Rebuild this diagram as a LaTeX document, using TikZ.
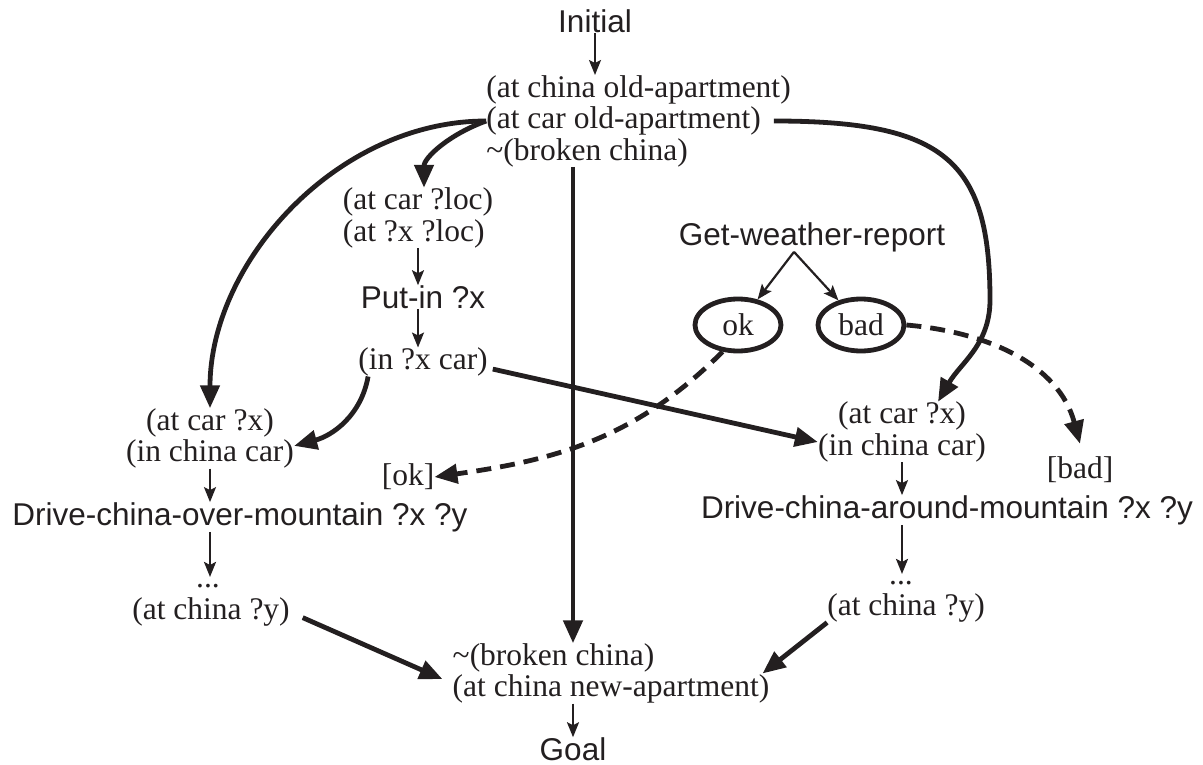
\documentclass[tikz,border=0pt]{standalone}
\usepackage{fontspec}
\setmainfont{Liberation Serif}
\setsansfont{Liberation Sans}
\usetikzlibrary{arrows.meta,shapes.geometric}
\definecolor{ink}{RGB}{35,31,32}

\begin{document}
\begin{tikzpicture}[
  x=1pt, y=1pt,
  color=ink,
  font=\fontsize{31.5}{31.5}\selectfont,
  st/.style={inner sep=0pt, align=center},
  op/.style={inner sep=0pt, font=\fontsize{31.5}{31.5}\selectfont\sffamily},
  res/.style={ellipse, draw, line width=4.8pt, inner sep=0pt, minimum width=86pt, minimum height=52pt},
  link/.style={-{Stealth[length=15pt, width=12pt, inset=3pt]}, line width=2.2pt},
  flow/.style={-{Triangle[length=23pt, width=19pt]}, line width=4.8pt},
  cond/.style={flow, dash pattern=on 15pt off 9pt},
]
\useasboundingbox (0,0) rectangle (1203,-765);

% ---- initial state ----
\node[op] (INIT) at (595,-21) {Initial};
\node[st, align=left] (S0) at (638.5,-121) {(at china old-apartment)\\(at car old-apartment)\\\textasciitilde(broken china)};

% ---- loading the car ----
\node[st, align=left] (LOC) at (418,-218) {(at car ?loc)\\(at ?x ?loc)};
\node[op] (PUT) at (423,-297) {Put-in ?x};
\node[st] (INX) at (423,-362) {(in ?x car)};

% ---- left branch: over the mountain ----
\node[st] (LCAR) at (210,-438.5) {(at car ?x)\\(in china car)};
\node[op] (LDRV) at (240,-517) {Drive-china-over-mountain ?x ?y};
\node[st] (LDOT) at (208,-586) {...};
\node[st] (LEND) at (211,-612) {(at china ?y)};

% ---- right branch: around the mountain ----
\node[st] (RCAR) at (902,-432) {(at car ?x)\\(in china car)};
\node[op] (RDRV) at (947,-510) {Drive-china-around-mountain ?x ?y};
\node[st] (RDOT) at (901,-583) {...};
\node[st] (REND) at (906,-608) {(at china ?y)};

% ---- sensing action ----
\node[op] (GWR) at (812,-237) {Get-weather-report};
\node[res] (OK) at (738,-325) {ok};
\node[res] (BAD) at (861,-325) {bad};
\node[st] (OKL) at (408,-477) {[ok]};
\node[st] (BADL) at (1080,-470) {[bad]};

% ---- goal state ----
\node[st, align=left] (GST) at (611,-673.5) {\textasciitilde(broken china)\\(at china new-apartment)};
\node[op] (GOAL) at (573,-749) {Goal};

% ---- thin steps ----
\draw[link] (INIT) -- (INIT |- S0.north);
\draw[link] (LOC.south) -- (LOC.south |- PUT.north);
\draw[link] (LOC.south |- PUT.south) -- (LOC.south |- INX.north);
\draw[link] (LCAR.south) -- (LCAR.south |- LDRV.north);
\draw[link, shorten >=7pt] (LCAR.south |- LDRV.south) -- (LCAR.south |- LDOT.north);
\draw[link] (RCAR.south) -- (RCAR.south |- RDRV.north);
\draw[link, shorten >=7pt] (RCAR.south |- RDRV.south) -- (RCAR.south |- RDOT.north);
\draw[link] (GOAL |- GST.south) -- (GOAL.north);
\coordinate (FORK) at ([xshift=-18pt]GWR.south);
\draw[link] (FORK) -- (OK);
\draw[link] (FORK) -- (BAD);

% ---- causal links ----
\draw[flow] (S0.west) to[out=180, in=90, out distance=150pt, in distance=145pt] (LCAR.north);
\draw[flow] (S0.west) to[out=200, in=90, out distance=40pt, in distance=30pt] ([xshift=6pt]LOC.north);
\draw[flow] ([xshift=-17pt]S0.east) to[out=0, in=90, out distance=170pt, in distance=140pt] (990,-300)
  to[out=-90, in=60] (RCAR.40);
\draw[flow] (GOAL |- S0.south) -- (GOAL |- GST.north);
\draw[flow, shorten <=5pt] ([yshift=-6pt]INX.east) -- ([yshift=-10pt]RCAR.west);
\draw[flow] ([xshift=10pt]INX.south west) to[out=-100, in=15] (LCAR.-5);
\draw[flow, shorten <=14pt, shorten >=11pt] (LEND.east) -- ([yshift=-10pt]GST.west);
\draw[flow] (REND.south west) -- ([xshift=-7pt]GST.east);

% ---- conditional links ----
\draw[cond] (OK.240) to[out=225, in=8] (OKL.east);
\draw[cond] (BAD.east) to[out=-5, in=105] ([yshift=13pt]BADL.north);

\end{tikzpicture}
\end{document}
